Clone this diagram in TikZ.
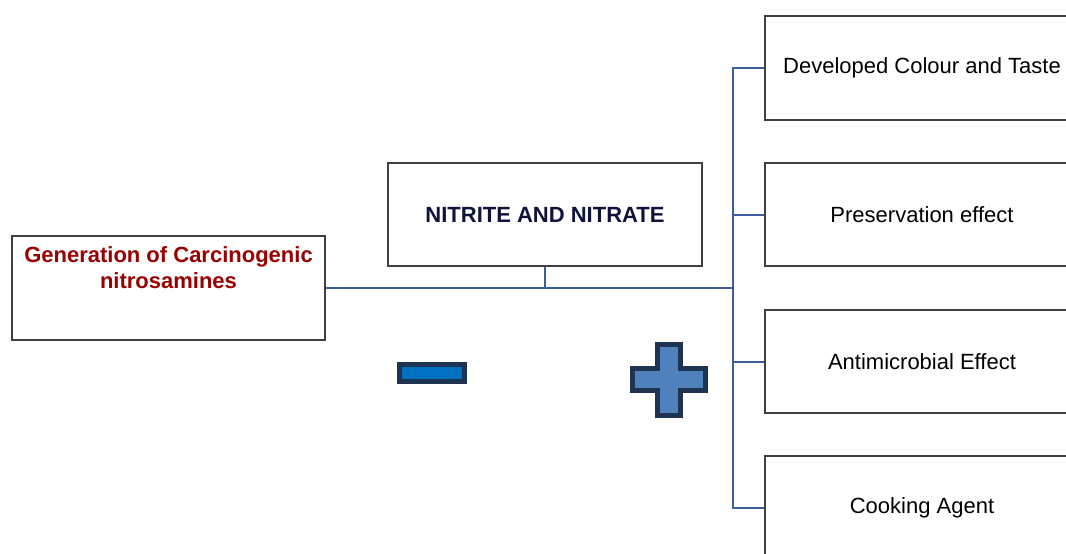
\documentclass[tikz,border=0pt]{standalone}
\usepackage{fontspec}
\setmainfont{Liberation Sans}
\definecolor{genred}{RGB}{153,0,0}
\definecolor{navytxt}{RGB}{16,20,60}
\definecolor{connblue}{RGB}{60,93,160}
\definecolor{boxgray}{RGB}{64,64,64}
\definecolor{minusblue}{RGB}{0,112,192}
\definecolor{plusblue}{RGB}{79,129,189}
\definecolor{signedge}{RGB}{30,50,82}
\tikzset{
  box/.style={draw=boxgray, line width=1.3pt, fill=white, minimum width=314pt, minimum height=104pt, inner sep=0pt, font=\fontsize{22}{26}\selectfont},
  conn/.style={draw=connblue, line width=2pt},
  sign/.style={draw=signedge, line width=5pt, line join=miter},
  gentext/.style={text=genred, font=\bfseries\fontsize{22}{26}\selectfont, align=center, inner sep=0pt}
}
\begin{document}
\begin{tikzpicture}[x=1pt,y=-1pt]
\useasboundingbox (0,0) rectangle (1066,554);
\clip (0,0) rectangle (1066,554);
% boxes
\node[box, minimum width=313pt] (gen) at (168.5,288) {};
\node[gentext, anchor=north] (gentxt) at (168.5,246) {Generation of Carcinogenic\\nitrosamines};
\node[box, minimum height=103pt, text=navytxt, font=\bfseries\fontsize{22}{26}\selectfont] (nitro) at (545,214.5) {NITRITE AND NITRATE};
\node[box] (b1) at (922,68) {Developed Colour and Taste};
\node[box, minimum height=103pt] (b2) at (922,214.5) {Preservation effect};
\node[box, minimum height=103pt] (b3) at (922,361.5) {Antimicrobial Effect};
\node[box] (b4) at (922,508) {Cooking Agent};
\coordinate (hub) at (733,288);
% connectors
\draw[conn] (gen.east) -- (hub);
\draw[conn] (nitro.south) -- (nitro.south |- hub);
\draw[conn] (hub) |- (b1.west);
\draw[conn] (hub) |- (b2.west);
\draw[conn] (hub) |- (b3.west);
\draw[conn] (hub) |- (b4.west);
% signs
\draw[sign, fill=minusblue] (399.5,364.5) rectangle (464.5,381.5);
\draw[sign, fill=plusblue] (657.5,344.5) -- (680.5,344.5) -- (680.5,368.5) -- (705.5,368.5) -- (705.5,390.5) -- (680.5,390.5) -- (680.5,415.5) -- (657.5,415.5) -- (657.5,390.5) -- (632.5,390.5) -- (632.5,368.5) -- (657.5,368.5) -- cycle;
\end{tikzpicture}
\end{document}
